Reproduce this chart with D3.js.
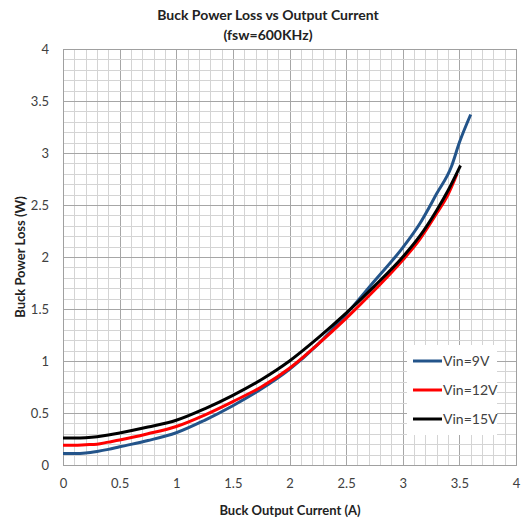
<!DOCTYPE html>
<html>
<head>
<meta charset="utf-8">
<script src="https://d3js.org/d3.v7.min.js"></script>
<style>
  body { margin: 0; background: #fff; }
  text { font-family: Lato, "Liberation Sans", Arial, sans-serif; }
</style>
</head>
<body>
<svg id="chart"></svg>
<script>
////////////////////////////
//  chart data
///////////////////////////
var seriesNames = ['Vin=9V', 'Vin=12V', 'Vin=15V'];
var seriesColors = ['#23548a', '#ff0000', '#000000'];

var current9  = [0, 0.1, 0.2, 0.3, 0.4, 0.5, 0.75, 1.0, 1.25, 1.5, 1.75, 2.0, 2.25, 2.5, 2.75, 3.0, 3.15, 3.3, 3.43, 3.5, 3.6];
var loss9     = [0.11, 0.11, 0.115, 0.13, 0.15, 0.175, 0.235, 0.31, 0.43, 0.57, 0.73, 0.92, 1.16, 1.45, 1.77, 2.09, 2.32, 2.61, 2.87, 3.1, 3.37];

var current12 = [0, 0.1, 0.2, 0.3, 0.4, 0.5, 0.75, 1.0, 1.25, 1.5, 1.75, 2.0, 2.25, 2.5, 2.75, 3.0, 3.15, 3.3, 3.4, 3.48];
var loss12    = [0.19, 0.19, 0.195, 0.2, 0.22, 0.24, 0.30, 0.37, 0.48, 0.61, 0.75, 0.93, 1.16, 1.41, 1.68, 1.97, 2.17, 2.42, 2.6, 2.8];

var current15 = [0, 0.1, 0.2, 0.3, 0.4, 0.5, 0.75, 1.0, 1.25, 1.5, 1.75, 2.0, 2.25, 2.5, 2.75, 3.0, 3.15, 3.3, 3.4, 3.51];
var loss15    = [0.26, 0.26, 0.263, 0.272, 0.288, 0.308, 0.365, 0.43, 0.54, 0.67, 0.82, 1.0, 1.22, 1.46, 1.72, 2.0, 2.2, 2.45, 2.64, 2.88];

var xTicks = [0, 0.5, 1, 1.5, 2, 2.5, 3, 3.5, 4];
var yTicks = [0, 0.5, 1, 1.5, 2, 2.5, 3, 3.5, 4];

///////////////////
// layout
//////////////////
var width = 523, height = 523;
var margin = {left: 63, right: 7, top: 49, bottom: 58};

var svg = d3.select('#chart')
    .attr('width', width)
    .attr('height', height);

var xScale = d3.scaleLinear().domain([0, 4]).range([margin.left, width - margin.right]);
var yScale = d3.scaleLinear().domain([0, 4]).range([height - margin.bottom, margin.top]);

//// grid
var minor = d3.range(0, 41).map(d => d / 10);
var grid = svg.append('g').attr('class', 'grid');
grid.selectAll('.vx')
  .data(minor)
  .enter()
  .append('line')
    .attr('x1', d => Math.round(xScale(d)) + 0.5)
    .attr('x2', d => Math.round(xScale(d)) + 0.5)
    .attr('y1', yScale(0))
    .attr('y2', yScale(4))
    .attr('stroke', d => (Math.round(d * 10) % 5 === 0) ? '#a6a6a6' : '#d4d4d4')
    .attr('stroke-width', 1);
grid.selectAll('.hy')
  .data(minor)
  .enter()
  .append('line')
    .attr('y1', d => Math.round(yScale(d)) + 0.5)
    .attr('y2', d => Math.round(yScale(d)) + 0.5)
    .attr('x1', xScale(0))
    .attr('x2', xScale(4))
    .attr('stroke', d => (Math.round(d * 10) % 5 === 0) ? '#a6a6a6' : '#d4d4d4')
    .attr('stroke-width', 1);

svg.append('rect')
    .attr('x', Math.round(xScale(0)) + 0.5)
    .attr('y', Math.round(yScale(4)) + 0.5)
    .attr('width', Math.round(xScale(4)) - Math.round(xScale(0)))
    .attr('height', Math.round(yScale(0)) - Math.round(yScale(4)))
    .attr('fill', 'none')
    .attr('stroke', '#a0a0a0');

//// axes (labels only)
var xAxis = d3.axisBottom(xScale).tickValues(xTicks).tickSize(0).tickPadding(14)
    .tickFormat(d3.format('~g'));
svg.append('g')
    .attr('transform', `translate(0,${yScale(0)})`)
    .call(xAxis)
    .call(g => g.select('.domain').remove())
    .selectAll('text')
      .attr('font-size', 13)
      .attr('fill', '#404040')
      .style('font-family', 'Lato, "Liberation Sans", sans-serif');

var yAxis = d3.axisLeft(yScale).tickValues(yTicks).tickSize(0).tickPadding(14)
    .tickFormat(d3.format('~g'));
svg.append('g')
    .attr('transform', `translate(${xScale(0)},0)`)
    .call(yAxis)
    .call(g => g.select('.domain').remove())
    .selectAll('text')
      .attr('font-size', 13)
      .attr('fill', '#404040')
      .style('font-family', 'Lato, "Liberation Sans", sans-serif');

//// lines
var series = [
  {name: seriesNames[0], color: seriesColors[0], xs: current9,  ys: loss9},
  {name: seriesNames[1], color: seriesColors[1], xs: current12, ys: loss12},
  {name: seriesNames[2], color: seriesColors[2], xs: current15, ys: loss15}
];

var line = d3.line()
    .x(d => xScale(d[0]))
    .y(d => yScale(d[1]))
    .curve(d3.curveMonotoneX);

svg.append('g')
  .selectAll('path')
  .data(series)
  .enter()
  .append('path')
    .attr('d', s => line(s.xs.map((x, i) => [x, s.ys[i]])))
    .attr('fill', 'none')
    .attr('stroke', s => s.color)
    .attr('stroke-width', 3)
    .attr('stroke-linejoin', 'round');

//// legend
var legend = svg.append('g').attr('transform', 'translate(407,345)');
legend.append('rect')
    .attr('width', 90)
    .attr('height', 90)
    .attr('fill', '#fff');
var item = legend.selectAll('.item')
  .data(series)
  .enter()
  .append('g')
    .attr('transform', (d, i) => `translate(0,${16 + i * 29})`);
item.append('line')
    .attr('x1', 6).attr('x2', 35)
    .attr('stroke', d => d.color)
    .attr('stroke-width', 3);
item.append('text')
    .attr('x', 36)
    .attr('dy', '0.35em')
    .attr('font-size', 14)
    .attr('fill', '#404040')
    .text(d => d.name);

//// titles
svg.append('text')
    .attr('x', 268).attr('y', 20)
    .attr('text-anchor', 'middle')
    .attr('font-size', 14)
    .attr('font-weight', 'bold')
    .attr('fill', '#222')
    .text('Buck Power Loss vs Output Current');
svg.append('text')
    .attr('x', 268).attr('y', 40)
    .attr('text-anchor', 'middle')
    .attr('font-size', 14)
    .attr('font-weight', 'bold')
    .attr('fill', '#222')
    .text('(fsw=600KHz)');

svg.append('text')
    .attr('x', 290).attr('y', 515)
    .attr('text-anchor', 'middle')
    .attr('font-size', 13)
    .attr('font-weight', 'bold')
    .attr('fill', '#222')
    .text('Buck Output Current (A)');

svg.append('text')
    .attr('transform', 'translate(25,257) rotate(-90)')
    .attr('text-anchor', 'middle')
    .attr('font-size', 13)
    .attr('font-weight', 'bold')
    .attr('fill', '#222')
    .text('Buck Power Loss (W)');
</script>
</body>
</html>
